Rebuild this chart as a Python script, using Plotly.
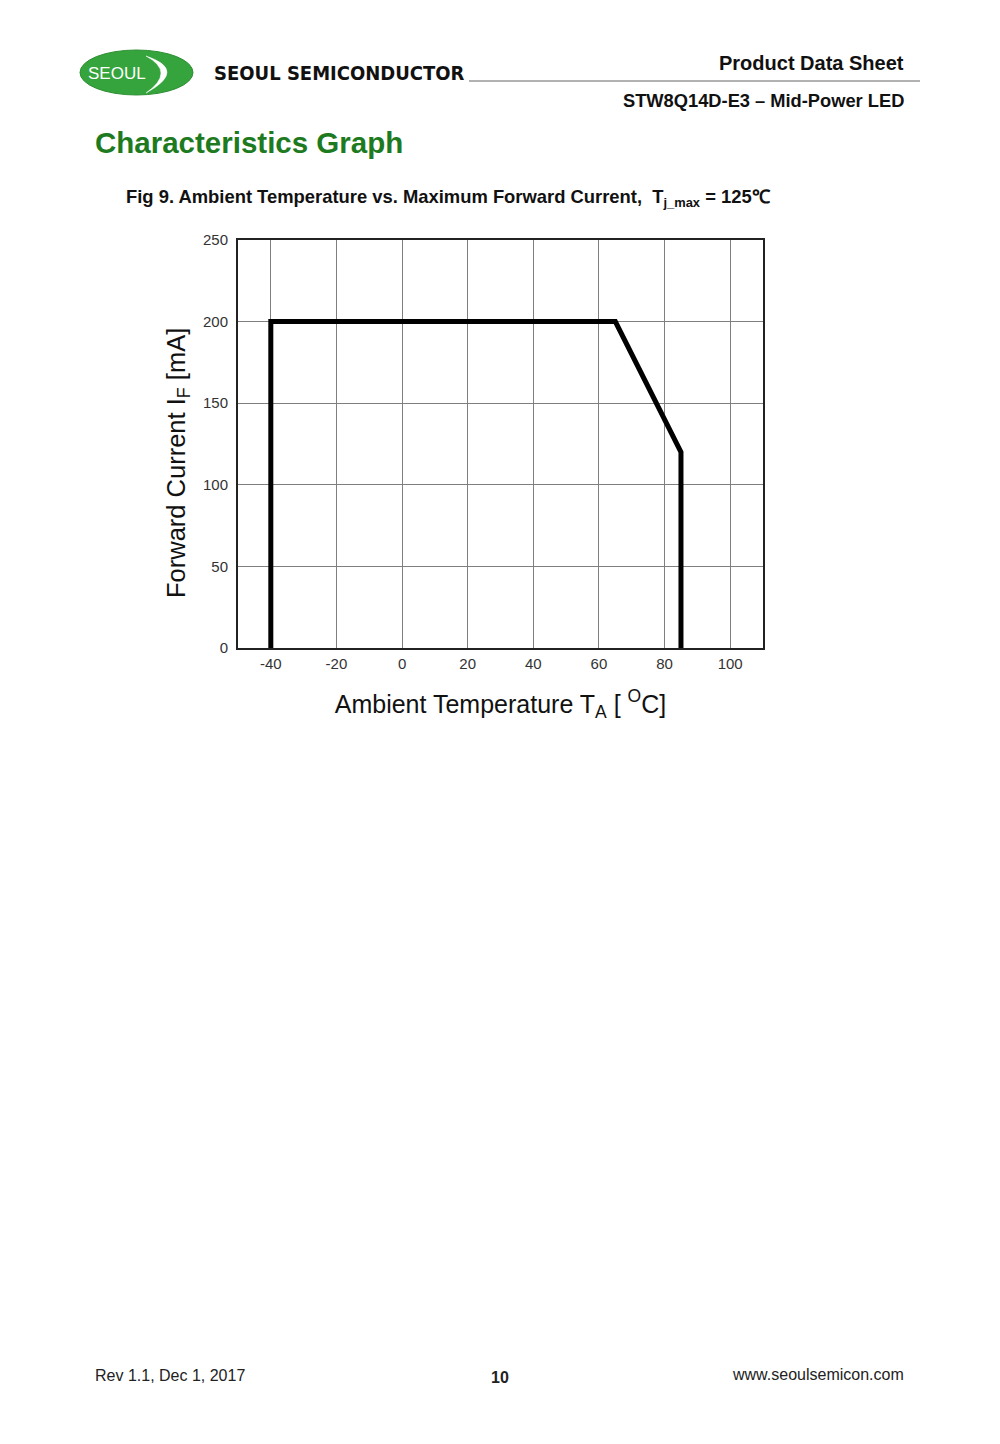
import plotly.graph_objects as go

# Data
temp = [-40, -40, 65, 85, 85]
current = [0, 200, 200, 120, 0]
x_ticks = [-40, -20, 0, 20, 40, 60, 80, 100]
y_ticks = [0, 50, 100, 150, 200, 250]

W, H = 1000, 1444
L, R, T, B = 238, 763, 240, 648

def px(x):
    return (x - L) / (R - L)

def py(y):
    return (B - y) / (B - T)

fig = go.Figure()
fig.add_trace(go.Scatter(x=temp, y=current, mode="lines",
                         line=dict(color="black", width=5),
                         showlegend=False, hoverinfo="skip"))

FONT = "Liberation Sans, Arial, sans-serif"
fig.update_layout(
    width=W, height=H,
    margin=dict(l=L, r=W - R, t=T, b=H - B),
    paper_bgcolor="white", plot_bgcolor="white",
    font=dict(family=FONT, color="#222"),
    xaxis=dict(range=[-50, 110], tickvals=x_ticks, ticktext=[str(v) for v in x_ticks],
               showgrid=True, gridcolor="#7f7f7f", gridwidth=1,
               showline=True, linecolor="#222", linewidth=2, mirror=True,
               ticks="outside", ticklen=1, tickcolor="white",
               tickfont=dict(size=15, color="#333"), zeroline=False,
               title=dict(text="Ambient Temperature T<sub>A</sub> [ <sup>O</sup>C]",
                          font=dict(size=25, color="#111"), standoff=24)),
    yaxis=dict(range=[0, 250], tickvals=y_ticks, ticktext=[str(v) for v in y_ticks],
               showgrid=True, gridcolor="#7f7f7f", gridwidth=1,
               showline=True, linecolor="#222", linewidth=2, mirror=True,
               ticks="outside", ticklen=5, tickcolor="white",
               tickfont=dict(size=15, color="#333"), zeroline=False),
)

shapes = []
# logo ellipse
shapes.append(dict(type="circle", xref="paper", yref="paper",
                   x0=px(80), x1=px(193), y0=py(95), y1=py(50),
                   fillcolor="#35a43c", line=dict(color="#2d8f33", width=1), layer="above"))
# crescent swoosh
path = ("M {a},{b} Q {c},{d} {e},{f} Q {g},{h} {a},{b} Z").format(
    a=px(146), b=py(56), c=px(188), d=py(70), e=px(146), f=py(93),
    g=px(176), h=py(72))
shapes.append(dict(type="path", xref="paper", yref="paper", path=path,
                   fillcolor="white", line=dict(color="white", width=0.5), layer="above"))
# header line
shapes.append(dict(type="line", xref="paper", yref="paper",
                   x0=px(469), x1=px(920), y0=py(81), y1=py(81),
                   line=dict(color="#999", width=1.5)))
fig.update_layout(shapes=shapes)

ann = []
def text(x, y, s, size, anchor="left", bold=False, color="#111", family=FONT, angle=0):
    ann.append(dict(xref="paper", yref="paper", x=px(x), y=py(y), text=("<b>%s</b>" % s) if bold else s,
                    showarrow=False, xanchor=anchor, yanchor="middle", textangle=angle,
                    font=dict(size=size, color=color, family=family)))

text(117, 74, "SEOUL", 17, anchor="center", color="white")
text(212, 73, "SEOUL SEMICONDUCTOR", 20, bold=True, color="#111",
     family="DejaVu Sans Condensed, Liberation Sans Narrow, Arial Narrow, sans-serif")
text(906, 63, "Product Data Sheet", 20, anchor="right", bold=True)
text(906, 100, "STW8Q14D-E3 – Mid-Power LED", 18.3, anchor="right", bold=True)
text(93, 142, "Characteristics Graph", 29.5, bold=True, color="#1d7a1f")
text(124, 198, "Fig 9. Ambient Temperature vs. Maximum Forward Current,  T<sub>j_max</sub> = 125℃", 18.4, bold=True)
text(178, 463, "Forward Current I<sub>F</sub> [mA]", 25.5, anchor="center", color="#111", angle=-90)
text(93, 1375, "Rev 1.1, Dec 1, 2017", 16, color="#222")
text(500, 1377, "10", 16, anchor="center", bold=True, color="#222")
text(906, 1374, "www.seoulsemicon.com", 16, anchor="right", color="#222")
fig.update_layout(annotations=ann)

fig.write_html("out.html")
